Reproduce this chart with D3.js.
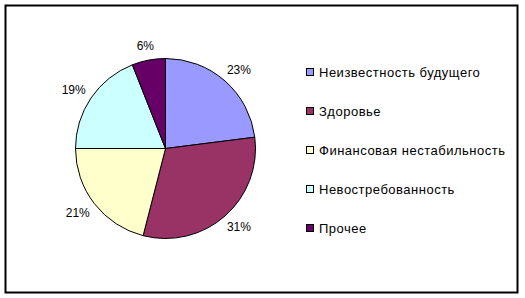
<!DOCTYPE html>
<html>
<head>
<meta charset="utf-8">
<script src="https://cdn.jsdelivr.net/npm/d3@7"></script>
<style>
  body { margin: 0; background: #fff; }
  svg { display: block; font-family: "Liberation Sans", Arial, sans-serif; }
</style>
</head>
<body>
<svg id="chart" width="525" height="298"></svg>
<script>
var CATEGORIES = ['Неизвестность будущего', 'Здоровье', 'Финансовая нестабильность', 'Невостребованность', 'Прочее'];
var VALUES = [23, 31, 21, 19, 6];
var COLORS = ['#9999ff', '#993366', '#ffffcc', '#ccffff', '#660066'];

var svg = d3.select('#chart');

// frame
svg.append('rect')
    .attr('x', 5.5).attr('y', 5.5)
    .attr('width', 512).attr('height', 287)
    .attr('fill', '#fff')
    .attr('stroke', '#000')
    .attr('stroke-width', 2);

// ----- Pie ------------------------------------------------------------------
var cx = 165.5, cy = 148.5, r = 90;
var data = CATEGORIES.map((c, i) => ({name: c, value: VALUES[i]}));

var pie = d3.pie().sort(null).value((d) => d.value);
var arc = d3.arc().innerRadius(0).outerRadius(r);
var color = d3.scaleOrdinal().domain(CATEGORIES).range(COLORS);

var g = svg.append('g')
    .attr('transform', 'translate(' + cx + ',' + cy + ')');

var arcs = pie(data);

g.selectAll('path')
    .data(arcs)
  .enter().append('path')
    .attr('d', arc)
    .attr('fill', (d) => color(d.data.name))
    .attr('stroke', '#000')
    .attr('stroke-width', 1);

// labels sit just outside the rim, pushed out by half their box
function labelPos(d) {
  var a = (d.startAngle + d.endAngle) / 2;
  var w = d.data.value >= 10 ? 24 : 17, h = 12, R = r + 9;
  var x = Math.sin(a) * R + Math.sin(a) * w / 2;
  var y = -Math.cos(a) * R - Math.cos(a) * h / 2;
  return [x, y];
}

g.selectAll('text.pct')
    .data(arcs)
  .enter().append('text')
    .attr('class', 'pct')
    .attr('transform', (d) => 'translate(' + labelPos(d) + ')')
    .attr('text-anchor', 'middle')
    .attr('dy', '0.35em')
    .attr('font-size', 12)
    .text((d) => d.data.value + '%');

// ----- Legend ---------------------------------------------------------------
var ly = d3.scalePoint().domain(CATEGORIES).range([72, 228]);

var legend = svg.append('g').selectAll('g')
    .data(CATEGORIES)
  .enter().append('g')
    .attr('transform', (d) => 'translate(306,' + ly(d) + ')');

legend.append('rect')
    .attr('x', 0.5).attr('y', -3.5)
    .attr('width', 7).attr('height', 7)
    .attr('fill', (d) => color(d))
    .attr('stroke', '#000');

legend.append('text')
    .attr('x', 13)
    .attr('dy', '0.35em')
    .attr('font-size', 13)
    .attr('letter-spacing', 0.5)
    .text((d) => d);
</script>
</body>
</html>
